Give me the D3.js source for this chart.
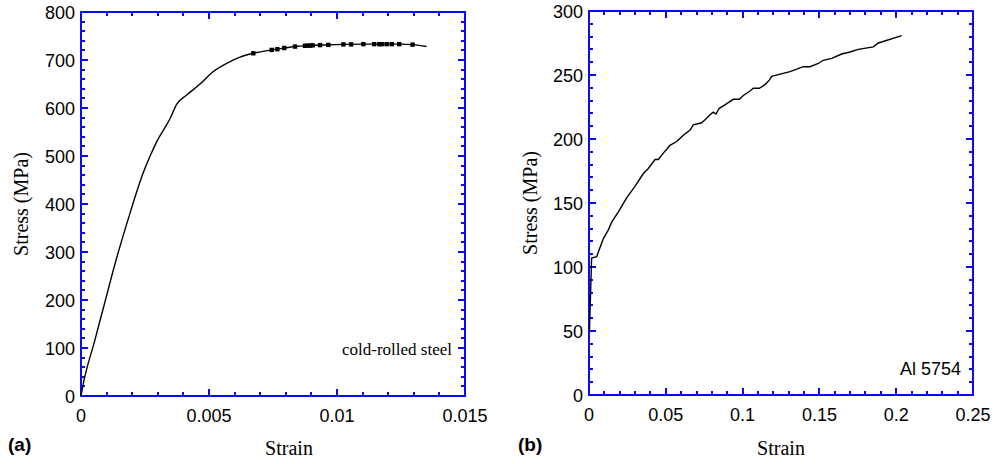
<!doctype html>
<html>
<head>
    <script src="https://d3js.org/d3.v7.min.js"></script>
    <style>
        body { margin: 0; background: #fff; }
        .lbl { font-family: Arial, "Liberation Sans", sans-serif; font-size: 18px; fill: #000; }
        .serif { font-family: "Liberation Serif", "Times New Roman", serif; }
        .sans { font-family: Arial, "Liberation Sans", sans-serif; }
    </style>
</head>
<body>
    <svg width="1001" height="464"></svg>
    <script>
        // (a) cold-rolled steel
        var steelStrain = [0, 0.00005, 0.00055, 0.00098, 0.00126, 0.00191, 0.00243, 0.0027, 0.00296, 0.00348,
            0.00374, 0.00413, 0.00465, 0.00517, 0.00569, 0.00621, 0.00673, 0.00745, 0.00797, 0.00836,
            0.00882, 0.00934, 0.01025, 0.01103, 0.01168, 0.01246, 0.01298, 0.0135];
        var steelStress = [0, 15, 118, 205, 262, 380, 465, 500, 530, 578,
            608, 627, 650, 676, 693, 706, 714, 721, 725, 728,
            730, 731, 732.5, 733, 733, 733, 732, 728];
        var markStrain = [0.00673, 0.00745, 0.00767, 0.00794, 0.00836, 0.00875, 0.00884, 0.00895, 0.00905, 0.00934,
            0.00966, 0.01025, 0.01055, 0.01103, 0.01145, 0.01165, 0.01175, 0.01194, 0.01214, 0.01243, 0.01295];
        var markStress = [714, 721, 722.5, 725, 728, 729.5, 730, 730, 730.5, 731,
            731.5, 732.5, 732.5, 733, 733, 733, 733, 733, 733, 733, 732];
        var steelXTicks = [0, 0.005, 0.01, 0.015];
        var steelYTicks = [0, 100, 200, 300, 400, 500, 600, 700, 800];

        // (b) Al 5754
        var alStrain = [0.0003, 0.0017, 0.005, 0.0065, 0.0093, 0.0126, 0.0148, 0.0191, 0.0245, 0.0299,
            0.0354, 0.0386, 0.043, 0.0451, 0.0484, 0.0506, 0.0527, 0.0571, 0.0614, 0.0658,
            0.0679, 0.0734, 0.0755, 0.0788, 0.0809, 0.0827, 0.0848, 0.0885, 0.094, 0.0979,
            0.1005, 0.1048, 0.107, 0.1109, 0.1146, 0.1174, 0.1189, 0.1309, 0.1395, 0.1439,
            0.1493, 0.1525, 0.158, 0.1645, 0.1699, 0.1753, 0.1851, 0.1884, 0.2036];
        var alStress = [50, 107, 108, 113, 122, 129, 135, 143, 154, 163,
            173, 177, 184, 184, 189, 192, 195, 198, 203, 207,
            211, 212.7, 215, 219, 221, 219.5, 224, 226.6, 231, 231,
            234, 237.5, 239.6, 239.6, 242.5, 246, 249, 252.6, 256.5, 256.5,
            259, 261.5, 263, 266.4, 268, 270, 272, 275, 280.7];
        var alXTicks = [0, 0.05, 0.1, 0.15, 0.2, 0.25];
        var alYTicks = [0, 50, 100, 150, 200, 250, 300];

        var blue = "#0a0af5";
        var svg = d3.select("svg");
        svg.append("rect").attr("width", 1001).attr("height", 464).attr("fill", "#fff");

        function panel(opt) {
            var x = d3.scaleLinear().domain(opt.xDomain).range([opt.left, opt.left + 384]);
            var y = d3.scaleLinear().domain(opt.yDomain).range([opt.top + 384, opt.top]);
            var nx = Math.round((opt.xDomain[1] - opt.xDomain[0]) / opt.xMinor);
            var ny = Math.round((opt.yDomain[1] - opt.yDomain[0]) / opt.yMinor);
            var xMinor = d3.range(nx + 1).map(i => opt.xDomain[0] + i * opt.xMinor);
            var yMinor = d3.range(ny + 1).map(i => opt.yDomain[0] + i * opt.yMinor);
            var fmt = d3.format("~g");
            var x0 = opt.left, x1 = opt.left + 384, y0 = opt.top + 384, y1 = opt.top;
            var g = svg.append("g");

            // ticks as one path per set, pointing inward on all four sides
            function tickPath(xv, yv, len, w) {
                var d = "";
                xv.forEach(function(v) {
                    var px = Math.round(x(v));
                    d += "M" + px + "," + y0 + "v" + (-len) + "M" + px + "," + y1 + "v" + len;
                });
                yv.forEach(function(v) {
                    var py = Math.round(y(v));
                    d += "M" + x0 + "," + py + "h" + len + "M" + x1 + "," + py + "h" + (-len);
                });
                g.append("path").attr("d", d).attr("fill", "none")
                    .attr("stroke", blue).attr("stroke-width", w);
            }
            tickPath(xMinor, yMinor, 4, 2);
            tickPath(opt.xTicks, opt.yTicks, 7, 2);

            g.append("g").selectAll("text").data(opt.xTicks).enter().append("text")
                .attr("class", "lbl").attr("text-anchor", "middle")
                .attr("x", d => x(d)).attr("y", y0 + 26).text(fmt);
            g.append("g").selectAll("text").data(opt.yTicks).enter().append("text")
                .attr("class", "lbl").attr("text-anchor", "end")
                .attr("x", x0 - 6).attr("y", d => y(d) + 6.5).text(fmt);

            g.append("rect").attr("fill", "none").attr("stroke", blue).attr("stroke-width", 2)
                .attr("x", x0).attr("y", y1).attr("width", 384).attr("height", 384);

            var line = d3.line().x(d => x(d[0])).y(d => y(d[1])).curve(opt.curve);
            g.append("path")
                .datum(d3.zip(opt.xs, opt.ys))
                .attr("fill", "none").attr("stroke", "#000").attr("stroke-width", 1.4)
                .attr("d", line);

            return {x: x, y: y};
        }

        var a = panel({left: 81, top: 12, xDomain: [0, 0.015], yDomain: [0, 800],
            xMinor: 0.001, yMinor: 20, xTicks: steelXTicks, yTicks: steelYTicks,
            xs: steelStrain, ys: steelStress, curve: d3.curveMonotoneX});

        svg.append("g").selectAll("rect")
            .data(d3.zip(markStrain, markStress))
            .enter().append("rect")
            .attr("x", d => a.x(d[0]) - 2.2).attr("y", d => a.y(d[1]) - 2.2)
            .attr("width", 4.4).attr("height", 4.4).attr("fill", "#000");

        var b = panel({left: 589, top: 11, xDomain: [0, 0.25], yDomain: [0, 300],
            xMinor: 0.01, yMinor: 10, xTicks: alXTicks, yTicks: alYTicks,
            xs: alStrain, ys: alStress, curve: d3.curveLinear});

        // axis titles
        svg.append("text").attr("class", "serif").attr("font-size", 20)
            .attr("text-anchor", "middle").attr("transform", "translate(28,204) rotate(-90)")
            .text("Stress (MPa)");
        svg.append("text").attr("class", "serif").attr("font-size", 20)
            .attr("text-anchor", "middle").attr("transform", "translate(537,203) rotate(-90)")
            .text("Stress (MPa)");
        svg.append("text").attr("class", "serif").attr("font-size", 20)
            .attr("text-anchor", "middle").attr("x", 289).attr("y", 455).text("Strain");
        svg.append("text").attr("class", "serif").attr("font-size", 20)
            .attr("text-anchor", "middle").attr("x", 781).attr("y", 455).text("Strain");

        // annotations
        svg.append("text").attr("class", "serif").attr("font-size", 17)
            .attr("text-anchor", "end").attr("x", 452).attr("y", 355).text("cold-rolled steel");
        svg.append("text").attr("class", "sans").attr("font-size", 18)
            .attr("text-anchor", "end").attr("x", 961).attr("y", 375).text("Al 5754");
        svg.append("text").attr("class", "sans").attr("font-size", 19).attr("font-weight", "bold")
            .attr("x", 8).attr("y", 451).text("(a)");
        svg.append("text").attr("class", "sans").attr("font-size", 19).attr("font-weight", "bold")
            .attr("x", 518).attr("y", 451).text("(b)");
    </script>
</body>
</html>
